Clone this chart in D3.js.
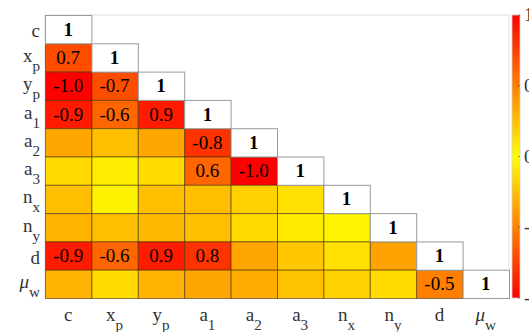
<!DOCTYPE html>
<html>
<head>
<meta charset="utf-8">
<script src="https://cdn.jsdelivr.net/npm/d3@7"></script>
<style>
  html, body { margin: 0; padding: 0; background: #fff; }
  svg { display: block; }
</style>
</head>
<body>
<svg id="chart" width="529" height="332" font-family="'Liberation Serif', 'Times New Roman', serif"></svg>
<script>
// Variable names: base letter + subscript
const varBase = ["c", "x", "y", "a", "a", "a", "n", "n", "d", "μ"];
const varSub  = ["",  "p", "p", "1", "2", "3", "x", "y", "",  "w"];

// Lower-triangle correlation coefficients, one array per row (diagonal = 1 omitted)
const rowC  = [];
const rowXp = [0.7];
const rowYp = [-1.0, -0.7];
const rowA1 = [-0.9, -0.6, 0.9];
const rowA2 = [0.35, 0.25, 0.35, -0.8];
const rowA3 = [0.15, 0.07, 0.14, 0.6, -1.0];
const rowNx = [0.25, 0.05, 0.25, 0.25, 0.18, 0.12];
const rowNy = [0.3, 0.25, 0.28, 0.25, 0.15, 0.08, 0.04];
const rowD  = [-0.9, -0.6, 0.9, 0.8, 0.35, 0.22, 0.12, 0.37];
const rowMw = [0.3, 0.14, 0.3, 0.35, 0.33, 0.24, 0.18, 0.14, -0.5];
const corrRows = [rowC, rowXp, rowYp, rowA1, rowA2, rowA3, rowNx, rowNy, rowD, rowMw];

// Colour bar ticks
const cbTicks = [1, 0.5, 0, -0.5, -1];
const cbTickLabels = ["1", "0.5", "0", "-0.5", "-1"];

const svg = d3.select("#chart");
const idx = d3.range(varBase.length);

const x = d3.scaleBand().domain(idx).range([45, 509]).paddingInner(0);
const y = d3.scaleBand().domain(idx).range([15, 298]).paddingInner(0);

// |r| mapped from yellow (0) to red (1)
const color = v => d3.interpolateRgb("#ffff00", "#ff0000")(Math.min(1, Math.abs(v)));

const fs = 19;

// Axes frame
svg.append("rect")
  .attr("x", x.range()[0]).attr("y", y.range()[0])
  .attr("width", x.range()[1] - x.range()[0])
  .attr("height", y.range()[1] - y.range()[0])
  .attr("fill", "none").attr("stroke", "#e2e2e2").attr("stroke-width", 1);

// Flatten to cells
const cells = [];
corrRows.forEach((vals, i) => {
  vals.forEach((v, j) => cells.push({ i, j, v, diag: false }));
  cells.push({ i, j: i, v: 1, diag: true });
});

const g = svg.append("g");

g.selectAll("rect.cell")
  .data(cells.filter(d => !d.diag))
  .join("rect")
  .attr("class", "cell")
  .attr("x", d => x(d.j) + 0.5).attr("y", d => y(d.i) + 0.5)
  .attr("width", x.bandwidth()).attr("height", y.bandwidth())
  .attr("fill", d => color(d.v))
  .attr("stroke", "rgba(60,40,0,0.55)").attr("stroke-width", 1);

g.selectAll("rect.diag")
  .data(cells.filter(d => d.diag))
  .join("rect")
  .attr("class", "diag")
  .attr("x", d => x(d.j) + 0.5).attr("y", d => y(d.i) + 0.5)
  .attr("width", x.bandwidth()).attr("height", y.bandwidth())
  .attr("fill", "#fff")
  .attr("stroke", "#9a9a9a").attr("stroke-width", 1);

// Value labels for strong correlations and the diagonal
const fmt = v => (v < 0 ? "-" : "") + Math.abs(v).toFixed(1);
g.selectAll("text.val")
  .data(cells.filter(d => d.diag || Math.abs(d.v) >= 0.5))
  .join("text")
  .attr("class", "val")
  .attr("x", d => x(d.j) + x.bandwidth() / 2)
  .attr("y", d => y(d.i) + y.bandwidth() / 2 + 6.5)
  .attr("text-anchor", "middle")
  .attr("font-size", fs)
  .attr("font-weight", d => d.diag ? "bold" : "normal")
  .attr("fill", "#000")
  .text(d => d.diag ? "1" : fmt(d.v));

// Axis label helper: base letter with a lowered subscript
function addLabel(sel, i) {
  sel.append("tspan")
    .attr("font-style", varBase[i] === "μ" ? "italic" : "normal")
    .text(varBase[i]);
  if (varSub[i]) {
    sel.append("tspan")
      .attr("dy", 9)
      .attr("font-size", fs * 0.8)
      .text(varSub[i]);
  }
}

// Row labels (left)
idx.forEach(i => {
  const t = svg.append("text")
    .attr("x", 40)
    .attr("y", y(i) + y.bandwidth() / 2 + (varSub[i] ? 4.5 : 8))
    .attr("text-anchor", "end")
    .attr("font-size", fs)
    .attr("fill", "#333");
  addLabel(t, i);
});

// Column labels (bottom)
idx.forEach(i => {
  const t = svg.append("text")
    .attr("x", x(i) + x.bandwidth() / 2)
    .attr("y", 321)
    .attr("text-anchor", "middle")
    .attr("font-size", fs)
    .attr("fill", "#333");
  addLabel(t, i);
});

// Colour bar
const cbX = 512, cbW = 8;
const cbScale = d3.scaleLinear().domain([-1, 1]).range([298, 15]);
const defs = svg.append("defs");
const grad = defs.append("linearGradient")
  .attr("id", "cbgrad").attr("x1", 0).attr("y1", 1).attr("x2", 0).attr("y2", 0);
d3.range(-1, 1.0001, 0.1).forEach(v => {
  grad.append("stop")
    .attr("offset", (v + 1) / 2)
    .attr("stop-color", color(v));
});
svg.append("rect")
  .attr("x", cbX).attr("y", cbScale(1))
  .attr("width", cbW).attr("height", cbScale(-1) - cbScale(1))
  .attr("fill", "url(#cbgrad)")
  .attr("stroke", "#d0d0d0").attr("stroke-width", 0.8);

const cbAxis = svg.append("g");
cbTicks.forEach((v, k) => {
  cbAxis.append("line")
    .attr("x1", cbX + cbW - 2).attr("x2", cbX + cbW)
    .attr("y1", cbScale(v)).attr("y2", cbScale(v))
    .attr("stroke", "#444").attr("stroke-width", 0.6);
  cbAxis.append("text")
    .attr("x", cbX + cbW + 4)
    .attr("y", cbScale(v) + 6)
    .attr("font-size", fs)
    .attr("fill", "#333")
    .text(cbTickLabels[k]);
});
</script>
</body>
</html>
